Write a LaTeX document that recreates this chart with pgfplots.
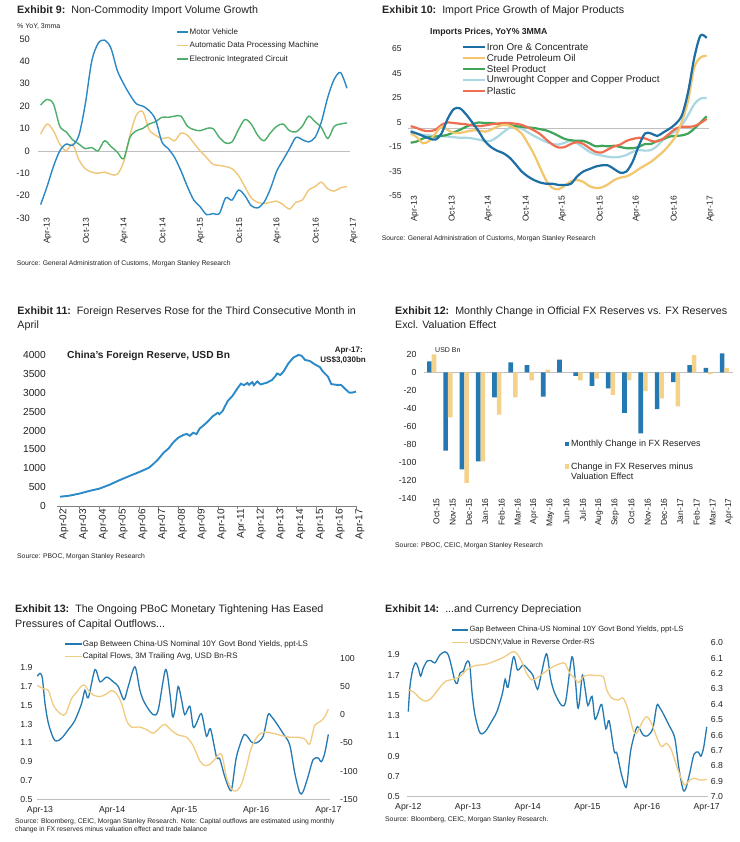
\documentclass[border=0pt]{standalone}
\usepackage{fontspec}
\setmainfont{Liberation Sans}
\usepackage{pgfplots}
\usepackage{pgfplotstable}
\pgfplotsset{compat=1.18}

\newcommand\fs[1]{\fontsize{#1bp}{#1bp}\selectfont}

\definecolor{txt}{HTML}{222222}
\definecolor{zline}{HTML}{BFBFBF}
\definecolor{nineblue}{HTML}{2A88C5}
\definecolor{nineyel}{HTML}{F0C778}
\definecolor{ninegrn}{HTML}{4DAE6B}
\definecolor{iron}{HTML}{1C6EA4}
\definecolor{crude}{HTML}{F3C66E}
\definecolor{steel}{HTML}{3FA558}
\definecolor{copper}{HTML}{A9D8E2}
\definecolor{plastic}{HTML}{EF6E50}
\definecolor{resblue}{HTML}{2B8AC7}
\definecolor{barblue}{HTML}{2479B2}
\definecolor{baryel}{HTML}{F5D28C}
\definecolor{gapblue}{HTML}{2479B2}
\definecolor{flowyel}{HTML}{F1CB80}

% Exhibit 9: months since Apr-13
\pgfplotstableread{
m mv adp eic
0 -24 7.5 20.5
1 -16 12 23
2 -7 9 21
3 0 3 11
4 3 0 8.5
5 2.5 3 5
6 7 -4 3
7 21 -8 1
8 40 -9.5 1.5
9 48 -10 0
10 49.5 -9.5 4.5
11 46 -10.5 2
12 36 -10.5 -0.5
13 30 -5 -3.5
14 25 7 6
15 21 16 9
16 20 17.5 10
17 18 9.5 12
18 14 7 13
19 4 5.5 15
20 1 6 15
21 -3 4.5 15.5
22 -9 8 15.5
23 -16 7 11
24 -22 3.5 9.5
25 -25 0 9
26 -28.5 -3 10
27 -28 -6 10
28 -28 -6.5 6
29 -21 -7 3.5
30 -22 -8 4
31 -17.5 -11 9.5
32 -20 -16 14
33 -24.5 -21 12
34 -25.5 -23 7
35 -23 -23.5 4.5
36 -17 -23 8
37 -9 -22.5 11
38 -4 -24 12
39 1 -26 9
40 6 -23 8.5
41 5 -22 11
42 4 -17.5 15.5
43 6 -16 13
44 13 -14 10.5
45 24 -17 5.5
46 32 -18 11
47 35 -16.5 12
48 28 -16 12.5
}\tabnine

% Exhibit 10: months since Apr-13
\pgfplotstableread{
m iron crude steel copper plastic
0 -2.5 -4 -11.5 -1.5 2
1 -4 -7 -10.5 -4 0.5
2 -6 -12 -8 -5 -1.5
3 -8 -10 -7 -5.5 -2
4 -9 -4 -6.5 -6 -1
5 -4 1.5 -6 -6 3
6 8 -1 -5 -6.5 5
7 16 -3.5 -3 -7 4.5
8 16.5 -3.5 -1 -7.5 4
9 11.5 -2.5 1.5 -7.5 3.5
10 5 -1.5 3.5 -8 2.5
11 -2 -1.5 5 -9 2
12 -10 -2.5 4.5 -10 2.5
13 -15 -1 4.5 -10 3.5
14 -18 1.5 4 -7 4
15 -20 3 3.5 -3 4.5
16 -23.5 2.5 3 0.5 4.5
17 -29 0 2 1 4
18 -35 -4 1.5 0 3
19 -39 -12 1 -3 1
20 -42 -21 0.5 -6 -1.5
21 -44 -32 -0.5 -8.5 -4.5
22 -45 -42.5 -1.5 -11 -9
23 -45 -48.5 -3.5 -12.5 -13
24 -46 -49.5 -6 -13 -15.5
25 -46 -46.5 -8.5 -11.5 -15
26 -45 -43 -9.5 -10 -12.5
27 -39 -42 -10 -12 -11
28 -35 -43.5 -10 -15.5 -12.5
29 -33 -47 -12 -19 -16
30 -31 -48.5 -14.5 -21 -19
31 -30 -48 -14 -22 -19.5
32 -30 -45.5 -14.5 -23 -17
33 -33 -42 -14 -23.5 -14.5
34 -36 -40 -15 -23 -13
35 -35 -39 -16 -21.5 -10
36 -27 -36.5 -16 -19 -8.5
37 -14 -33 -15 -17.5 -7.5
38 -4 -30 -12.5 -18 -8
39 -4 -27 -12.5 -17.5 -10
40 -6 -23 -10 -14 -10.5
41 -3 -18.5 -8.5 -9 -8
42 0 -13 -6.5 -5 -4
43 4 -6 -6 -2 0
44 11 6 -5.5 3 1.5
45 30 23 -4 11 1.5
46 58 50 0 20 2
47 76 58 5 24.5 4.5
48 74 59.5 10 25 8
}\tabten

% Exhibit 11: China FX reserves, USD bn
\pgfplotstableread{
t res
2002.25 245
2002.75 275
2003.25 330
2003.75 400
2004.25 460
2004.75 560
2005.25 680
2005.75 790
2006.25 895
2006.75 1010
2007.00 1120
2007.25 1250
2007.50 1410
2007.75 1520
2008.00 1690
2008.25 1810
2008.50 1880
2008.67 1910
2008.83 1860
2009.00 1940
2009.17 1905
2009.33 2050
2009.67 2200
2010.00 2380
2010.25 2470
2010.33 2430
2010.50 2520
2010.75 2780
2011.00 2920
2011.25 3120
2011.42 3240
2011.58 3200
2011.75 3260
2011.83 3210
2012.00 3280
2012.08 3200
2012.25 3300
2012.42 3220
2012.75 3270
2013.00 3340
2013.17 3440
2013.25 3510
2013.42 3470
2013.58 3560
2013.83 3780
2014.08 3930
2014.33 4000
2014.50 3980
2014.67 3870
2014.92 3840
2015.17 3750
2015.42 3680
2015.58 3560
2015.83 3430
2016.00 3230
2016.25 3210
2016.50 3205
2016.75 3080
2016.92 3000
2017.08 3005
2017.25 3030
}\tabeleven

% Exhibit 12: monthly change, USD bn
\pgfplotstableread{
i chg exval
0 12 20
1 -87 -50
2 -108 -123
3 -99 -99
4 -28 -47
5 11 -28
6 8 -9
7 -27 3
8 14 0
9 -4 -9
10 -15 -7
11 -18 -25
12 -45 -9
13 -68 -21
14 -41 -29
15 -11 -38
16 8 19
17 5 -2
18 21 4.5
}\tabtwelve

% China-US 10Y yield gap, months since Apr-12
\pgfplotstableread{
m gap
0 1.34
0.34 1.59
0.87 1.75
1.47 1.82
2.01 1.77
2.48 1.69
3.02 1.77
3.82 1.84
4.69 1.84
5.36 1.82
6.37 1.90
7.37 1.93
8.04 1.90
8.71 1.78
9.38 1.64
9.85 1.62
10.39 1.72
11.06 1.74
11.56 1.81
12.0 1.84
12.39 1.79
12.83 1.52
13.39 1.31
14.22 1.15
14.77 1.12
15.6 1.15
16.71 1.24
17.82 1.34
18.93 1.52
19.48 1.66
20.04 1.58
21.15 1.88
21.98 1.75
23.09 1.80
24.2 1.75
25.03 1.70
25.97 1.56
26.69 1.70
27.8 1.91
28.63 1.66
29.46 1.52
30.85 1.40
31.68 1.45
32.9 1.88
33.62 1.63
34.06 1.38
34.45 1.45
35.0 1.70
35.56 1.56
36.11 1.40
36.94 1.49
37.5 1.27
38.05 1.31
38.88 1.41
39.72 1.17
40.38 1.25
41.38 0.95
41.93 0.93
42.76 0.74
43.6 0.60
43.98 0.63
44.7 0.95
45.81 1.17
46.37 1.18
47.2 1.11
48.03 1.10
49.14 1.17
49.97 1.40
50.53 1.38
51.36 1.31
52.47 1.20
53.57 1.08
54.41 0.78
55.24 0.57
55.79 0.58
56.62 0.74
57.45 0.92
58.29 0.94
58.84 0.90
59.4 0.99
60.0 1.19
}\tabgap

% capital flows, 3M trailing avg, USD bn
\pgfplotstableread{
m flow
11.56 52
12.55 46
13.39 43
14.22 17
15.05 5
15.88 -1
16.43 5
17.27 29
18.1 40
18.93 51
19.48 52
20.04 43
20.87 35
21.98 32
23.09 37
23.92 43
24.75 37
25.58 20
26.41 -10
27.24 -22
28.63 -22
30.02 -28
30.85 -33
31.96 -23
32.79 -17
33.9 -28
35.0 -36
36.39 -40
37.5 -55
38.61 -82
39.44 -90
40.27 -88
41.1 -79
42.21 -70
43.04 -111
43.87 -132
44.7 -135
45.54 -123
46.37 -93
47.2 -58
48.31 -37
49.42 -31
50.8 -33
52.19 -37
53.57 -40
54.96 -40
56.07 -43
56.9 -52
57.73 -19
58.56 -13
59.4 -4
60.0 10
}\tabflow

% USDCNY, months since Apr-12
\pgfplotstableread{
m cny
0 6.307
1 6.318
2.3 6.36
3.35 6.379
4.36 6.368
5.7 6.318
6.7 6.275
7.7 6.247
9.05 6.238
10.4 6.22
11.7 6.177
13.07 6.152
14.4 6.145
15.75 6.139
17.1 6.123
18.4 6.106
19.4 6.09
20.4 6.069
21.1 6.058
21.8 6.069
22.8 6.123
23.8 6.2
24.8 6.242
25.8 6.23
27.1 6.2
28.5 6.167
29.8 6.145
30.8 6.134
31.5 6.134
32.5 6.2
33.5 6.232
34.2 6.26
35.2 6.22
36.5 6.21
37.9 6.214
39.2 6.22
39.9 6.307
40.9 6.36
42.2 6.372
43.2 6.36
44.2 6.437
45.2 6.567
45.9 6.589
46.9 6.524
47.9 6.48
48.9 6.524
49.9 6.61
50.9 6.675
51.9 6.654
52.9 6.697
54 6.805
55 6.892
55.6 6.924
56.6 6.892
57.6 6.88
58.6 6.892
60 6.887
}\tabcny

\pgfplotsset{
  panel/.style={
    scale only axis, clip=false,
    axis line style={draw=none},
    major tick length=0pt,
    /pgf/number format/assume math mode=true,
    /pgf/number format/1000 sep={},
    ticklabel style={text=txt},
  },
  rotx/.style={xticklabel style={font=\fs{#1}, inner sep=0pt, rotate=90, anchor=east}},
  onedec/.style={yticklabel style={/pgf/number format/fixed, /pgf/number format/fixed zerofill, /pgf/number format/precision=1}},
}

\begin{document}
\begin{tikzpicture}[x=1bp,y=1bp]
\path[use as bounding box, fill=white] (0,0) rectangle (740,842);

% ---------------- Exhibit 9 ----------------
\node[anchor=base west, inner sep=0pt, font=\fs{10.7}, text=txt] at (17,828)
  {\textbf{Exhibit 9:}\ \ Non-Commodity Import Volume Growth};
\node[anchor=west, inner sep=0pt, font=\fs{7}, text=txt] at (17,815) {\% YoY, 3mma};
\begin{axis}[panel, at={(38.1bp,624bp)}, width=311.4bp, height=179bp,
  xmin=-0.4, xmax=48.4, ymin=-30, ymax=50,
  xtick={0,6,...,48},
  xticklabels={Apr-13,Oct-13,Apr-14,Oct-14,Apr-15,Oct-15,Apr-16,Oct-16,Apr-17},
  ytick={-30,-20,...,50},
  yticklabel style={font=\fs{9.3}, inner sep=0pt, xshift=-8bp},
  rotx=8.5, xticklabel style={yshift=-7bp},
]
\draw[zline] (axis cs:-0.4,0) -- (axis cs:48.4,0);
\addplot[nineyel, line width=1.4bp, smooth] table[x=m, y=adp] {\tabnine};
\addplot[ninegrn, line width=1.4bp, smooth] table[x=m, y=eic] {\tabnine};
\addplot[nineblue, line width=1.4bp, smooth] table[x=m, y=mv] {\tabnine};
\end{axis}
\foreach \c/\t [count=\k from 0] in {nineblue/Motor Vehicle, nineyel/Automatic Data Processing Machine, ninegrn/Electronic Integrated Circuit}{
  \draw[\c, line width=1.4bp] (177,810-13.5*\k) -- (188,810-13.5*\k);
  \node[anchor=west, inner sep=0pt, font=\fs{8}, text=txt] at (189.5,810-13.5*\k) {\t};
}
\node[anchor=west, inner sep=0pt, font=\fs{6.8}, text=txt] at (16.7,578.7)
  {Source: General Administration of Customs, Morgan Stanley Research};

% ---------------- Exhibit 10 ----------------
\node[anchor=base west, inner sep=0pt, font=\fs{10.7}, text=txt] at (382,828)
  {\textbf{Exhibit 10:}\ \ Import Price Growth of Major Products};
\node[anchor=west, inner sep=0pt, font=\bfseries\fs{8.7}, text=txt] at (430,810) {Imports Prices, YoY\% 3MMA};
\begin{axis}[panel, at={(408.2bp,646bp)}, width=300.9bp, height=165.4bp,
  xmin=-0.4, xmax=48.4, ymin=-55, ymax=80,
  xtick={0,6,...,48},
  xticklabels={Apr-13,Oct-13,Apr-14,Oct-14,Apr-15,Oct-15,Apr-16,Oct-16,Apr-17},
  ytick={-55,-35,...,65},
  yticklabel style={font=\fs{8.5}, inner sep=0pt, xshift=-6.5bp},
  rotx=8.5, xticklabel style={yshift=-4bp},
]
\draw[zline] (axis cs:-0.4,0) -- (axis cs:48.4,0);
\addplot[copper, line width=2.2bp, smooth] table[x=m, y=copper] {\tabten};
\addplot[steel, line width=2.2bp, smooth] table[x=m, y=steel] {\tabten};
\addplot[plastic, line width=2.2bp, smooth] table[x=m, y=plastic] {\tabten};
\addplot[crude, line width=2.2bp, smooth] table[x=m, y=crude] {\tabten};
\addplot[iron, line width=2.2bp, smooth] table[x=m, y=iron] {\tabten};
\end{axis}
\foreach \c/\t/\yy in {iron/Iron Ore \& Concentrate/795.3, crude/Crude Petroleum Oil/784.3, steel/Steel Product/773, copper/Unwrought Copper and Copper Product/762, plastic/Plastic/751.3}{
  \draw[\c, line width=2.2bp] (463,\yy) -- (485,\yy);
  \node[anchor=west, inner sep=0pt, font=\fs{9.8}, text=txt] at (486.7,\yy) {\t};
}
\node[anchor=west, inner sep=0pt, font=\fs{6.8}, text=txt] at (381.7,603.7)
  {Source: General Administration of Customs, Morgan Stanley Research};

% ---------------- Exhibit 11 ----------------
\node[anchor=base west, inner sep=0pt, font=\fs{10.7}, text=txt] at (17.3,527)
  {\textbf{Exhibit 11:}\ \ Foreign Reserves Rose for the Third Consecutive Month in};
\node[anchor=base west, inner sep=0pt, font=\fs{10.7}, text=txt] at (17.3,513.7) {April};
\begin{axis}[panel, at={(57bp,336bp)}, width=299.9bp, height=151bp,
  xmin=2002.1, xmax=2017.3, ymin=0, ymax=4000,
  xtick={2002.25,2003.25,2004.25,2005.25,2006.25,2007.25,2008.25,2009.25,2010.25,2011.25,2012.25,2013.25,2014.25,2015.25,2016.25,2017.25},
  xticklabels={Apr-02,Apr-03,Apr-04,Apr-05,Apr-06,Apr-07,Apr-08,Apr-09,Apr-10,Apr-11,Apr-12,Apr-13,Apr-14,Apr-15,Apr-16,Apr-17},
  ytick={0,500,...,4000},
  yticklabel style={font=\fs{10.2}, inner sep=0pt, xshift=-8bp},
  rotx=10, xticklabel style={yshift=-4bp},
  xtick pos=bottom, major tick length=3bp, tick align=outside,
  xtick style={draw=gray, line width=0.6bp}, ytick style={draw=none},
]
\draw[gray, line width=0.6bp] (axis cs:2002.1,0) -- (axis cs:2017.3,0);
\addplot[resblue, line width=1.9bp] table[x=t, y=res] {\tabeleven};
\end{axis}
\node[anchor=west, inner sep=0pt, font=\bfseries\fs{10.2}, text=txt] at (67,486.3) {China's Foreign Reserve, USD Bn};
\node[anchor=east, inner sep=0pt, font=\bfseries\fs{8}, text=txt] at (363,491) {Apr-17:};
\node[anchor=east, inner sep=0pt, font=\bfseries\fs{8}, text=txt] at (366,482) {US\$3,030bn};
\node[anchor=west, inner sep=0pt, font=\fs{6.8}, text=txt] at (17,285) {Source: PBOC, Morgan Stanley Research};

% ---------------- Exhibit 12 ----------------
\node[anchor=base west, inner sep=0pt, font=\fs{10.7}, text=txt] at (395,527)
  {\textbf{Exhibit 12:}\ \ Monthly Change in Official FX Reserves vs. FX Reserves};
\node[anchor=base west, inner sep=0pt, font=\fs{10.7}, text=txt] at (395,513.7) {Excl. Valuation Effect};
\node[anchor=west, inner sep=0pt, font=\fs{7}, text=txt] at (435,492) {USD Bn};
\begin{axis}[panel, at={(423.6bp,343.7bp)}, width=308.9bp, height=148.5bp,
  ybar=0pt, bar width=4.6bp,
  xmin=-0.5, xmax=18.5, ymin=-140, ymax=25,
  xtick={0,...,18},
  xticklabels={Oct-15,Nov-15,Dec-15,Jan-16,Feb-16,Mar-16,Apr-16,May-16,Jun-16,Jul-16,Aug-16,Sep-16,Oct-16,Nov-16,Dec-16,Jan-17,Feb-17,Mar-17,Apr-17},
  ytick={-140,-120,...,20},
  yticklabel style={font=\fs{8.8}, inner sep=0pt, xshift=-7bp},
  rotx=8.5, xticklabel style={yshift=-4.7bp},
]
\draw[zline] (axis cs:-0.5,0) -- (axis cs:18.5,0);
\addplot[fill=barblue, draw=none] table[x=i, y=chg] {\tabtwelve};
\addplot[fill=baryel, draw=none] table[x=i, y=exval] {\tabtwelve};
\end{axis}
\fill[barblue] (565,395.8) rectangle (569.4,400.2);
\node[anchor=west, inner sep=0pt, font=\fs{9}, text=txt] at (571,398) {Monthly Change in FX Reserves};
\fill[baryel] (565,373.1) rectangle (569.4,377.5);
\node[anchor=west, inner sep=0pt, font=\fs{9}, text=txt] at (571,375.3) {Change in FX Reserves minus};
\node[anchor=west, inner sep=0pt, font=\fs{9}, text=txt] at (571,365.3) {Valuation Effect};
\node[anchor=west, inner sep=0pt, font=\fs{6.8}, text=txt] at (395,296) {Source: PBOC, CEIC, Morgan Stanley Research};

% ---------------- Exhibit 13 ----------------
\node[anchor=base west, inner sep=0pt, font=\fs{10.7}, text=txt] at (15,229.3)
  {\textbf{Exhibit 13:}\ \ The Ongoing PBoC Monetary Tightening Has Eased};
\node[anchor=base west, inner sep=0pt, font=\fs{10.7}, text=txt] at (15,214.3) {Pressures of Capital Outflows...};
\begin{axis}[panel, at={(36.7bp,42.7bp)}, width=293.3bp, height=141bp,
  xmin=11.45, xmax=60.28, ymin=0.5, ymax=2.0,
  xtick={12,24,36,48,60}, xticklabels={Apr-13,Apr-14,Apr-15,Apr-16,Apr-17},
  ytick={0.5,0.7,...,1.9}, onedec,
  yticklabel style={font=\fs{8.7}, inner sep=0pt, xshift=-4bp},
  xticklabel style={font=\fs{8.7}, inner sep=0pt, anchor=base, yshift=-13.7bp},
]
\draw[zline, line width=0.8bp] (rel axis cs:0,0) -- (rel axis cs:1,0);
\addplot[gapblue, line width=1.3bp, smooth, restrict x to domain=11.5:61] table[x=m, y=gap] {\tabgap};
\end{axis}
\begin{axis}[panel, at={(36.7bp,42.7bp)}, width=293.3bp, height=141bp,
  xmin=11.45, xmax=60.28, ymin=-150, ymax=100,
  xtick=\empty, ytick={-150,-100,...,100}, yticklabel pos=right,
  yticklabel style={font=\fs{8.7}, inner sep=0pt, anchor=west, xshift=10bp},
]
\addplot[flowyel, line width=1.3bp, smooth] table[x=m, y=flow] {\tabflow};
\end{axis}
\draw[gapblue, line width=1.3bp] (65,198) -- (82,198);
\node[anchor=west, inner sep=0pt, font=\fs{8}, text=txt] at (82.7,198) {Gap Between China-US Nominal 10Y Govt Bond Yields, ppt-LS};
\draw[flowyel, line width=1.3bp] (65,185.3) -- (82,185.3);
\node[anchor=west, inner sep=0pt, font=\fs{8}, text=txt] at (82.7,185.3) {Capital Flows, 3M Trailing Avg, USD Bn-RS};
\node[anchor=west, inner sep=0pt, font=\fs{6.8}, text=txt] at (15,20.3)
  {Source: Bloomberg, CEIC, Morgan Stanley Research. Note: Capital outflows are estimated using monthly};
\node[anchor=west, inner sep=0pt, font=\fs{6.8}, text=txt] at (15,12)
  {change in FX reserves minus valuation effect and trade balance};

% ---------------- Exhibit 14 ----------------
\node[anchor=base west, inner sep=0pt, font=\fs{10.7}, text=txt] at (385,229.3)
  {\textbf{Exhibit 14:}\ \ ...and Currency Depreciation};
\begin{axis}[panel, at={(406.7bp,45.3bp)}, width=301.6bp, height=154bp,
  xmin=-0.32, xmax=60.32, ymin=0.5, ymax=2.02,
  xtick={0,12,...,60}, xticklabels={Apr-12,Apr-13,Apr-14,Apr-15,Apr-16,Apr-17},
  ytick={0.5,0.7,...,1.9}, onedec,
  yticklabel style={font=\fs{8.7}, inner sep=0pt, xshift=-6.7bp},
  xticklabel style={font=\fs{8.7}, inner sep=0pt, anchor=base, yshift=-13bp},
]
\draw[zline, line width=0.8bp] (rel axis cs:0,0) -- (rel axis cs:1,0);
\addplot[gapblue, line width=1.3bp, smooth] table[x=m, y=gap] {\tabgap};
\end{axis}
\begin{axis}[panel, at={(406.7bp,45.3bp)}, width=301.6bp, height=154bp,
  xmin=-0.32, xmax=60.32, ymin=6.0, ymax=7.0, y dir=reverse,
  xtick=\empty, ytick={6.0,6.1,...,7.0}, onedec, yticklabel pos=right,
  yticklabel style={font=\fs{8.7}, inner sep=0pt, anchor=west, xshift=2.4bp},
]
\addplot[flowyel, line width=1.3bp, smooth] table[x=m, y=cny] {\tabcny};
\end{axis}
\draw[gapblue, line width=1.3bp] (451.7,212) -- (468.3,212);
\node[anchor=west, inner sep=0pt, font=\fs{7.6}, text=txt] at (469.3,212) {Gap Between China-US Nominal 10Y Govt Bond Yields, ppt-LS};
\draw[flowyel, line width=1.3bp] (451.7,199.7) -- (468.3,199.7);
\node[anchor=west, inner sep=0pt, font=\fs{7.6}, text=txt] at (469.3,199.7) {USDCNY,Value in Reverse Order-RS};
\node[anchor=west, inner sep=0pt, font=\fs{6.8}, text=txt] at (385,22) {Source: Bloomberg, CEIC, Morgan Stanley Research.};

\end{tikzpicture}
\end{document}
